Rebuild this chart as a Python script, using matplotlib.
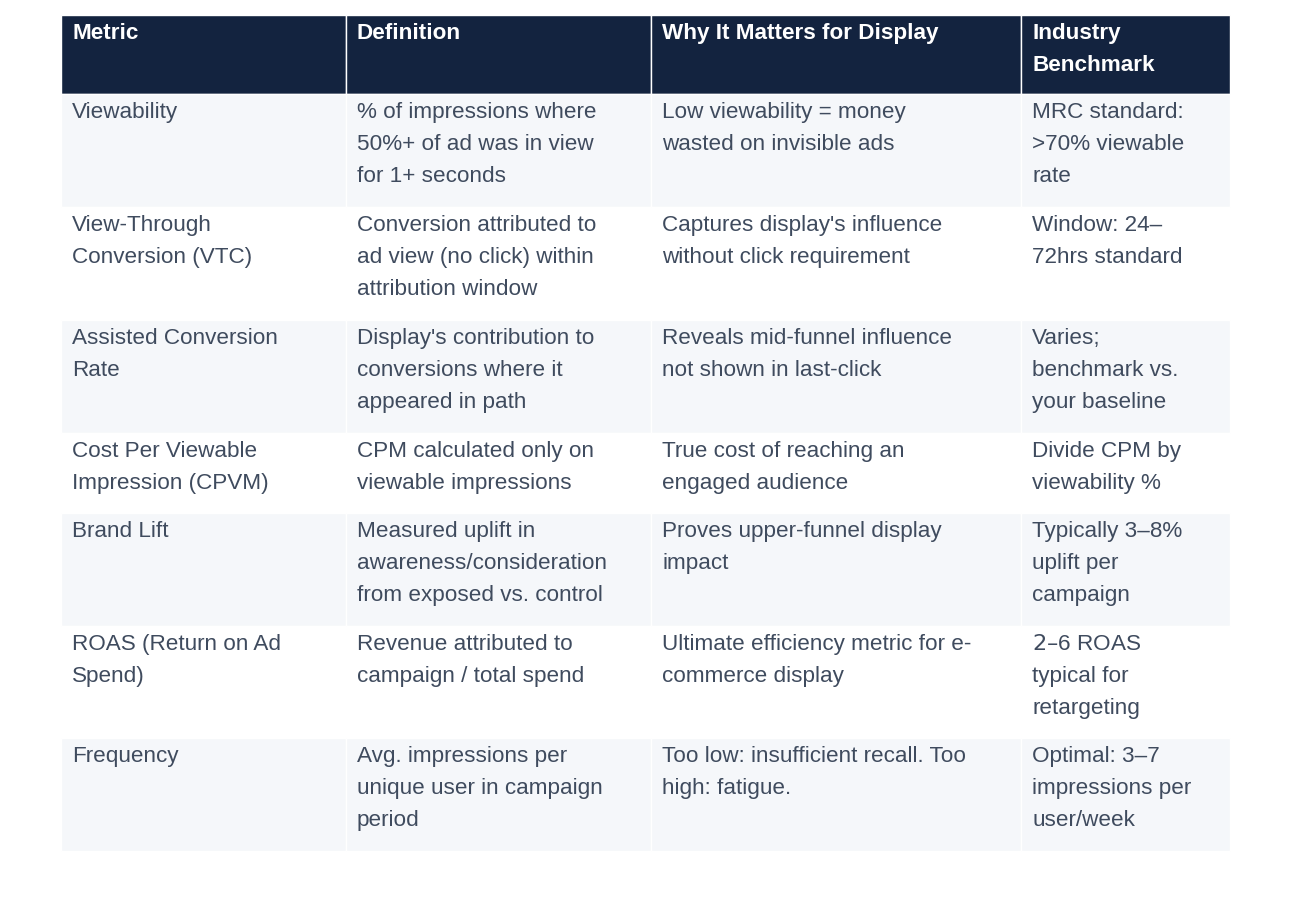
import matplotlib
matplotlib.use("Agg")
import matplotlib.pyplot as plt
from matplotlib.patches import Rectangle

headers = [["Metric"], ["Definition"], ["Why It Matters for Display"], ["Industry", "Benchmark"]]
rows = [
    [["Viewability"], ["% of impressions where", "50%+ of ad was in view", "for 1+ seconds"], ["Low viewability = money", "wasted on invisible ads"], ["MRC standard:", ">70% viewable", "rate"]],
    [["View-Through", "Conversion (VTC)"], ["Conversion attributed to", "ad view (no click) within", "attribution window"], ["Captures display's influence", "without click requirement"], ["Window: 24–", "72hrs standard"]],
    [["Assisted Conversion", "Rate"], ["Display's contribution to", "conversions where it", "appeared in path"], ["Reveals mid-funnel influence", "not shown in last-click"], ["Varies;", "benchmark vs.", "your baseline"]],
    [["Cost Per Viewable", "Impression (CPVM)"], ["CPM calculated only on", "viewable impressions"], ["True cost of reaching an", "engaged audience"], ["Divide CPM by", "viewability %"]],
    [["Brand Lift"], ["Measured uplift in", "awareness/consideration", "from exposed vs. control"], ["Proves upper-funnel display", "impact"], ["Typically 3–8%", "uplift per", "campaign"]],
    [["ROAS (Return on Ad", "Spend)"], ["Revenue attributed to", "campaign / total spend"], ["Ultimate efficiency metric for e-", "commerce display"], ["$2–$6 ROAS", "typical for", "retargeting"]],
    [["Frequency"], ["Avg. impressions per", "unique user in campaign", "period"], ["Too low: insufficient recall. Too", "high: fatigue."], ["Optimal: 3–7", "impressions per", "user/week"]],
]

col_x = [61, 346, 651, 1021, 1230]
row_y = [15, 94, 207, 320, 433, 513, 626, 738, 851]

fig = plt.figure(figsize=(12.92, 9.16), dpi=100)
ax = fig.add_axes([0, 0, 1, 1])
ax.set_xlim(0, 1292)
ax.set_ylim(916, 0)
ax.axis("off")

font = "Liberation Sans"
fs = 16.2
lh = 32.2

def draw_cell(lines, x0, y0, color, weight):
    for k, t in enumerate(lines):
        ax.text(x0 + 11, y0 + 24 + k * lh, t, color=color, fontsize=fs,
                fontweight=weight, family=font, va="baseline", ha="left")

for c in range(4):
    ax.add_patch(Rectangle((col_x[c], row_y[0]), col_x[c+1]-col_x[c], row_y[1]-row_y[0],
                           facecolor="#13233f", edgecolor="white", lw=1))
    draw_cell(headers[c], col_x[c], row_y[0], "white", "bold")

for r, row in enumerate(rows):
    bg = "#f5f7fa" if r % 2 == 0 else "white"
    for c in range(4):
        ax.add_patch(Rectangle((col_x[c], row_y[r+1]), col_x[c+1]-col_x[c], row_y[r+2]-row_y[r+1],
                               facecolor=bg, edgecolor="white", lw=1))
        draw_cell(row[c], col_x[c], row_y[r+1], "#3f4b5e", "normal")

fig.savefig("out.png", dpi=100)
